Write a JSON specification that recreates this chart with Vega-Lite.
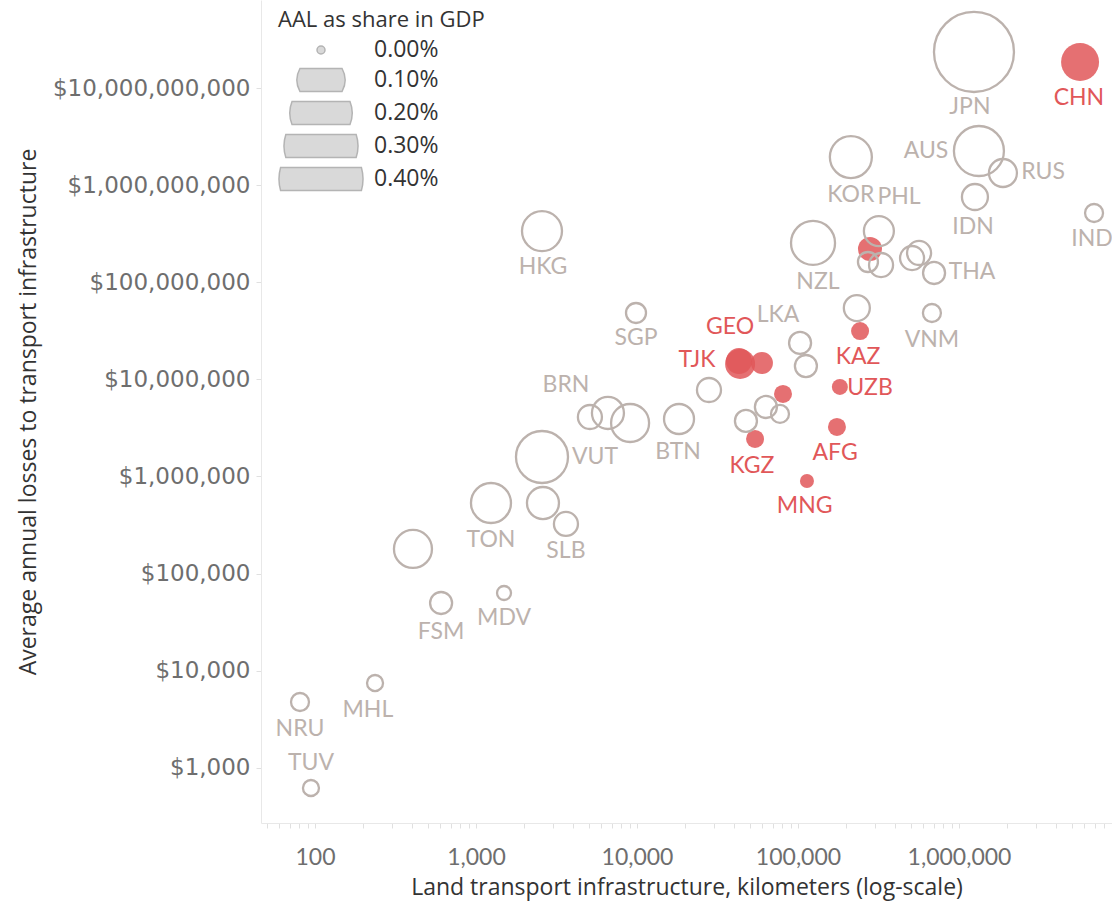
{
  "$schema": "https://vega.github.io/schema/vega-lite/v6.json",
  "width": 851,
  "height": 823,
  "autosize": {"type": "none"},
  "padding": {"left": 261, "top": 0, "right": 0, "bottom": 83},
  "background": "white",
  "config": {
    "view": {"stroke": null},
    "font": "Lato",
    "axis": {"grid": false, "domainColor": "#e8e8e8", "tickColor": "#e0e0e0", "tickSize": 5, "labelColor": "#6e6e6e", "titleColor": "#333333", "titleFontWeight": "normal", "titleFont": "Open Sans", "titleFontSize": 23, "labelLimit": 400, "titleLimit": 1000},
    "legend": {"titleLimit": 500, "labelLimit": 300}
  },
  "data": {"values": [
    {"iso": "JPN", "km": 1239000, "aal": 2.35e10, "share": 0.3586, "carec": false, "lx": 1169000, "ly": 6.37e9},
    {"iso": "CHN", "km": 5650000, "aal": 1.853e10, "share": 0.0616, "carec": true, "lx": 5560000, "ly": 7.89e9},
    {"iso": "AUS", "km": 1330000, "aal": 2.244e9, "share": 0.1124, "carec": false, "lx": 624000, "ly": 2.244e9},
    {"iso": "RUS", "km": 1875000, "aal": 1.333e9, "share": 0.0321, "carec": false, "lx": 3327000, "ly": 1.365e9},
    {"iso": "KOR", "km": 213000, "aal": 1.945e9, "share": 0.0759, "carec": false, "lx": 213000, "ly": 7.91e8},
    {"iso": "PHL", "km": 318000, "aal": 3.36e8, "share": 0.0373, "carec": false, "lx": 424000, "ly": 7.54e8},
    {"iso": "IDN", "km": 1256000, "aal": 7.54e8, "share": 0.0273, "carec": false, "lx": 1222000, "ly": 3.70e8},
    {"iso": "IND", "km": 6900000, "aal": 5.16e8, "share": 0.0116, "carec": false, "lx": 6700000, "ly": 2.79e8},
    {"iso": "NZL", "km": 124000, "aal": 2.54e8, "share": 0.0836, "carec": false, "lx": 133000, "ly": 1.005e8},
    {"iso": "", "km": 280000, "aal": 2.20e8, "share": 0.0229, "carec": true, "lx": null, "ly": null},
    {"iso": "", "km": 272000, "aal": 1.615e8, "share": 0.0150, "carec": false, "lx": null, "ly": null},
    {"iso": "", "km": 328000, "aal": 1.503e8, "share": 0.0229, "carec": false, "lx": null, "ly": null},
    {"iso": "", "km": 511000, "aal": 1.774e8, "share": 0.0229, "carec": false, "lx": null, "ly": null},
    {"iso": "", "km": 565000, "aal": 2.0e8, "share": 0.0229, "carec": false, "lx": null, "ly": null},
    {"iso": "THA", "km": 700000, "aal": 1.245e8, "share": 0.0188, "carec": false, "lx": 1205000, "ly": 1.274e8},
    {"iso": "HKG", "km": 2570, "aal": 3.36e8, "share": 0.0686, "carec": false, "lx": 2606, "ly": 1.436e8},
    {"iso": "SGP", "km": 9860, "aal": 4.82e7, "share": 0.0150, "carec": false, "lx": 9860, "ly": 2.66e7},
    {"iso": "", "km": 232000, "aal": 5.42e7, "share": 0.0273, "carec": false, "lx": null, "ly": null},
    {"iso": "KAZ", "km": 243000, "aal": 3.14e7, "share": 0.0116, "carec": true, "lx": 236000, "ly": 1.70e7},
    {"iso": "VNM", "km": 679000, "aal": 4.82e7, "share": 0.0116, "carec": false, "lx": 679000, "ly": 2.54e7},
    {"iso": "LKA", "km": 103000, "aal": 2.37e7, "share": 0.0188, "carec": false, "lx": 75200, "ly": 4.59e7},
    {"iso": "", "km": 112000, "aal": 1.37e7, "share": 0.0188, "carec": false, "lx": null, "ly": null},
    {"iso": "UZB", "km": 182000, "aal": 8.34e6, "share": 0.0086, "carec": true, "lx": 280000, "ly": 8.13e6},
    {"iso": "TJK", "km": 43700, "aal": 1.44e7, "share": 0.0373, "carec": true, "lx": 23600, "ly": 1.58e7},
    {"iso": "GEO", "km": 43000, "aal": 1.54e7, "share": 0.0273, "carec": true, "lx": 37800, "ly": 3.46e7},
    {"iso": "", "km": 59700, "aal": 1.47e7, "share": 0.0188, "carec": true, "lx": null, "ly": null},
    {"iso": "", "km": 80700, "aal": 7.06e6, "share": 0.0116, "carec": true, "lx": null, "ly": null},
    {"iso": "", "km": 28000, "aal": 7.76e6, "share": 0.0229, "carec": false, "lx": null, "ly": null},
    {"iso": "BRN", "km": 5100, "aal": 4.09e6, "share": 0.0229, "carec": false, "lx": 3620, "ly": 8.73e6},
    {"iso": "", "km": 6600, "aal": 4.5e6, "share": 0.0429, "carec": false, "lx": null, "ly": null},
    {"iso": "", "km": 9060, "aal": 3.55e6, "share": 0.0616, "carec": false, "lx": null, "ly": null},
    {"iso": "BTN", "km": 18240, "aal": 3.90e6, "share": 0.0373, "carec": false, "lx": 18000, "ly": 1.78e6},
    {"iso": "VUT", "km": 2570, "aal": 1.585e6, "share": 0.1253, "carec": false, "lx": 5480, "ly": 1.585e6},
    {"iso": "", "km": 63200, "aal": 5.19e6, "share": 0.0188, "carec": false, "lx": null, "ly": null},
    {"iso": "", "km": 77300, "aal": 4.40e6, "share": 0.0116, "carec": false, "lx": null, "ly": null},
    {"iso": "", "km": 47500, "aal": 3.73e6, "share": 0.0188, "carec": false, "lx": null, "ly": null},
    {"iso": "KGZ", "km": 54100, "aal": 2.43e6, "share": 0.0116, "carec": true, "lx": 51800, "ly": 1.28e6},
    {"iso": "AFG", "km": 174600, "aal": 3.23e6, "share": 0.0116, "carec": true, "lx": 170000, "ly": 1.74e6},
    {"iso": "MNG", "km": 113700, "aal": 8.97e5, "share": 0.0059, "carec": true, "lx": 110000, "ly": 4.95e5},
    {"iso": "TON", "km": 1239, "aal": 5.32e5, "share": 0.0686, "carec": false, "lx": 1239, "ly": 2.21e5},
    {"iso": "", "km": 2606, "aal": 5.32e5, "share": 0.0429, "carec": false, "lx": null, "ly": null},
    {"iso": "SLB", "km": 3620, "aal": 3.24e5, "share": 0.0229, "carec": false, "lx": 3620, "ly": 1.71e5},
    {"iso": "", "km": 406, "aal": 1.79e5, "share": 0.0616, "carec": false, "lx": null, "ly": null},
    {"iso": "FSM", "km": 607, "aal": 4.97e4, "share": 0.0188, "carec": false, "lx": 607, "ly": 2.50e4},
    {"iso": "MDV", "km": 1493, "aal": 6.30e4, "share": 0.0059, "carec": false, "lx": 1493, "ly": 3.48e4},
    {"iso": "MHL", "km": 236, "aal": 7450, "share": 0.0086, "carec": false, "lx": 213, "ly": 3930},
    {"iso": "NRU", "km": 80.7, "aal": 4750, "share": 0.0116, "carec": false, "lx": 80.7, "ly": 2506},
    {"iso": "TUV", "km": 94.4, "aal": 618, "share": 0.0086, "carec": false, "lx": 94.4, "ly": 1117}
  ]},
  "layer": [
    {
      "transform": [{"filter": "datum.carec"}],
      "mark": {"type": "circle", "fill": "#e15759", "opacity": 0.85, "strokeWidth": 0},
      "encoding": {
        "x": {"field": "km", "type": "quantitative", "scale": {"type": "log", "domain": [46.2, 8920000], "nice": false},
              "axis": {"title": "Land transport infrastructure, kilometers (log-scale)", "values": [50, 60, 70, 80, 90, 100, 200, 300, 400, 500, 600, 700, 800, 900, 1000, 2000, 3000, 4000, 5000, 6000, 7000, 8000, 9000, 10000, 20000, 30000, 40000, 50000, 60000, 70000, 80000, 90000, 100000, 200000, 300000, 400000, 500000, 600000, 700000, 800000, 900000, 1000000, 2000000, 3000000, 4000000, 5000000, 6000000, 7000000, 8000000], "format": ",", "labelExpr": "test(/^1[,0]*$/, datum.label) ? datum.label : ''", "labelOverlap": false, "labelFont": "Lato", "labelFontSize": 23, "labelPadding": 18, "titlePadding": 7}},
        "y": {"field": "aal", "type": "quantitative", "scale": {"type": "log", "domain": [269.5, 80600000000], "nice": false},
              "axis": {"title": "Average annual losses to transport infrastructure", "values": [1000, 10000, 100000, 1000000, 10000000, 100000000, 1000000000, 10000000000], "format": "$,.0f", "labelFont": "DejaVu Sans", "labelFontSize": 23, "labelPadding": 6, "titlePadding": 21}},
        "size": {"field": "share", "type": "quantitative", "scale": {"domain": [0, 0.1, 0.4], "range": [64, 2304, 7056]},
                 "legend": {"title": "AAL as share in GDP", "values": [0, 0.1, 0.2, 0.3, 0.4], "orient": "none", "legendX": 17, "legendY": 10,
                            "labelExpr": "format(datum.value, '.2f') + '%'", "titleFont": "Open Sans", "titleFontSize": 22, "titleFontWeight": "normal", "titleColor": "#333333",
                            "labelFont": "Open Sans", "labelFontSize": 23, "labelColor": "#333333", "rowPadding": 3, "titlePadding": 6, "labelOffset": 10,
                            "encoding": {"symbols": {
                              "y": {"value": 12},
                              "shape": {"value": {"expr": "datum.value == 0 ? 'circle' : 'M' + (-sqrt(1-pow(min(1,23/sqrt(scale('size',datum.value))),2))) + ',' + (-min(1,23/sqrt(scale('size',datum.value)))) + 'L' + sqrt(1-pow(min(1,23/sqrt(scale('size',datum.value))),2)) + ',' + (-min(1,23/sqrt(scale('size',datum.value)))) + 'A1,1,0,0,1,' + sqrt(1-pow(min(1,23/sqrt(scale('size',datum.value))),2)) + ',' + min(1,23/sqrt(scale('size',datum.value))) + 'L' + (-sqrt(1-pow(min(1,23/sqrt(scale('size',datum.value))),2))) + ',' + min(1,23/sqrt(scale('size',datum.value))) + 'A1,1,0,0,1,' + (-sqrt(1-pow(min(1,23/sqrt(scale('size',datum.value))),2))) + ',' + (-min(1,23/sqrt(scale('size',datum.value)))) + 'Z'"}},
                              "fill": {"value": "#d9d9d9"}, "stroke": {"value": "#b4b4b4"}, "strokeWidth": {"value": 1.5}, "opacity": {"value": 1}
                            }, "labels": {"y": {"value": 12}}}}}
      }
    },
    {
      "transform": [{"filter": "!datum.carec"}],
      "mark": {"type": "point", "shape": "circle", "filled": false, "stroke": "#bcb2ad", "strokeWidth": 2.3, "opacity": 1},
      "encoding": {
        "x": {"field": "km", "type": "quantitative", "scale": {"type": "log", "domain": [46.2, 8920000], "nice": false},
              "axis": {"title": "Land transport infrastructure, kilometers (log-scale)", "values": [50, 60, 70, 80, 90, 100, 200, 300, 400, 500, 600, 700, 800, 900, 1000, 2000, 3000, 4000, 5000, 6000, 7000, 8000, 9000, 10000, 20000, 30000, 40000, 50000, 60000, 70000, 80000, 90000, 100000, 200000, 300000, 400000, 500000, 600000, 700000, 800000, 900000, 1000000, 2000000, 3000000, 4000000, 5000000, 6000000, 7000000, 8000000], "format": ",", "labelExpr": "test(/^1[,0]*$/, datum.label) ? datum.label : ''", "labelOverlap": false, "labelFont": "Lato", "labelFontSize": 23, "labelPadding": 18, "titlePadding": 7}},
        "y": {"field": "aal", "type": "quantitative", "scale": {"type": "log", "domain": [269.5, 80600000000], "nice": false},
              "axis": {"title": "Average annual losses to transport infrastructure", "values": [1000, 10000, 100000, 1000000, 10000000, 100000000, 1000000000, 10000000000], "format": "$,.0f", "labelFont": "DejaVu Sans", "labelFontSize": 23, "labelPadding": 6, "titlePadding": 21}},
        "size": {"field": "share", "type": "quantitative", "scale": {"domain": [0, 0.1, 0.4], "range": [64, 2304, 7056]},
                 "legend": {"title": "AAL as share in GDP", "values": [0, 0.1, 0.2, 0.3, 0.4], "orient": "none", "legendX": 17, "legendY": 10,
                            "labelExpr": "format(datum.value, '.2f') + '%'", "titleFont": "Open Sans", "titleFontSize": 22, "titleFontWeight": "normal", "titleColor": "#333333",
                            "labelFont": "Open Sans", "labelFontSize": 23, "labelColor": "#333333", "rowPadding": 3, "titlePadding": 6, "labelOffset": 10,
                            "encoding": {"symbols": {
                              "y": {"value": 12},
                              "shape": {"value": {"expr": "datum.value == 0 ? 'circle' : 'M' + (-sqrt(1-pow(min(1,23/sqrt(scale('size',datum.value))),2))) + ',' + (-min(1,23/sqrt(scale('size',datum.value)))) + 'L' + sqrt(1-pow(min(1,23/sqrt(scale('size',datum.value))),2)) + ',' + (-min(1,23/sqrt(scale('size',datum.value)))) + 'A1,1,0,0,1,' + sqrt(1-pow(min(1,23/sqrt(scale('size',datum.value))),2)) + ',' + min(1,23/sqrt(scale('size',datum.value))) + 'L' + (-sqrt(1-pow(min(1,23/sqrt(scale('size',datum.value))),2))) + ',' + min(1,23/sqrt(scale('size',datum.value))) + 'A1,1,0,0,1,' + (-sqrt(1-pow(min(1,23/sqrt(scale('size',datum.value))),2))) + ',' + (-min(1,23/sqrt(scale('size',datum.value)))) + 'Z'"}},
                              "fill": {"value": "#d9d9d9"}, "stroke": {"value": "#b4b4b4"}, "strokeWidth": {"value": 1.5}, "opacity": {"value": 1}
                            }, "labels": {"y": {"value": 12}}}}}
      }
    },
    {
      "transform": [{"filter": "datum.iso != ''"}],
      "mark": {"type": "text", "font": "Lato", "fontSize": 23, "align": "center", "baseline": "middle"},
      "encoding": {
        "x": {"field": "lx", "type": "quantitative", "scale": {"type": "log", "domain": [46.2, 8920000], "nice": false},
              "axis": {"title": "Land transport infrastructure, kilometers (log-scale)", "values": [50, 60, 70, 80, 90, 100, 200, 300, 400, 500, 600, 700, 800, 900, 1000, 2000, 3000, 4000, 5000, 6000, 7000, 8000, 9000, 10000, 20000, 30000, 40000, 50000, 60000, 70000, 80000, 90000, 100000, 200000, 300000, 400000, 500000, 600000, 700000, 800000, 900000, 1000000, 2000000, 3000000, 4000000, 5000000, 6000000, 7000000, 8000000], "format": ",", "labelExpr": "test(/^1[,0]*$/, datum.label) ? datum.label : ''", "labelOverlap": false, "labelFont": "Lato", "labelFontSize": 23, "labelPadding": 18, "titlePadding": 7}},
        "y": {"field": "ly", "type": "quantitative", "scale": {"type": "log", "domain": [269.5, 80600000000], "nice": false},
              "axis": {"title": "Average annual losses to transport infrastructure", "values": [1000, 10000, 100000, 1000000, 10000000, 100000000, 1000000000, 10000000000], "format": "$,.0f", "labelFont": "DejaVu Sans", "labelFontSize": 23, "labelPadding": 6, "titlePadding": 21}},
        "text": {"field": "iso"},
        "color": {"condition": {"test": "datum.carec", "value": "#e15759"}, "value": "#bcb2ad"}
      }
    }
  ]
}
